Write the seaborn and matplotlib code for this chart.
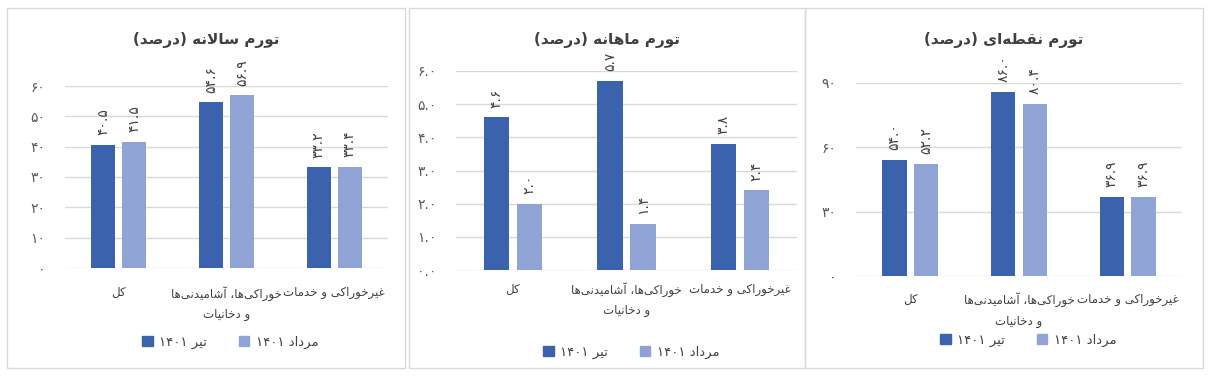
import re
import pandas as pd
import matplotlib.pyplot as plt
import matplotlib.patches as mpatches
import seaborn as sns

# chart data
categories = ['کل', 'خوراکی‌ها، آشامیدنی‌ها\nو دخانیات', 'غیرخوراکی و خدمات']
months = ['تیر ۱۴۰۱', 'مرداد ۱۴۰۱']
titles = ['تورم سالانه (درصد)', 'تورم ماهانه (درصد)', 'تورم نقطه‌ای (درصد)']

annual_tir = [40.5, 54.6, 33.2]
annual_mordad = [41.5, 56.9, 33.4]
monthly_tir = [4.6, 5.7, 3.8]
monthly_mordad = [2.0, 1.4, 2.4]
point_tir = [54.0, 86.0, 36.9]
point_mordad = [52.2, 80.4, 36.9]

annual_ticks = [0, 10, 20, 30, 40, 50, 60]
monthly_ticks = [0, 1, 2, 3, 4, 5, 6]
point_ticks = [0, 30, 60, 90]

DARK = '#3b63ad'
LIGHT = '#8fa4d4'
W, H = 1211, 378

# --- minimal persian shaping (matplotlib has no complex text layout) ---
FORMS = {
    'ا': (0xFE8D, 2), 'آ': (0xFE81, 2), 'د': (0xFEA9, 2), 'ذ': (0xFEAB, 2),
    'ر': (0xFEAD, 2), 'ز': (0xFEAF, 2), 'ژ': (0xFB8A, 2), 'و': (0xFEED, 2),
    'ب': (0xFE8F, 4), 'پ': (0xFB56, 4), 'ت': (0xFE95, 4), 'ث': (0xFE99, 4),
    'ج': (0xFE9D, 4), 'چ': (0xFB7A, 4), 'ح': (0xFEA1, 4), 'خ': (0xFEA5, 4),
    'س': (0xFEB1, 4), 'ش': (0xFEB5, 4), 'ص': (0xFEB9, 4), 'ض': (0xFEBD, 4),
    'ط': (0xFEC1, 4), 'ظ': (0xFEC5, 4), 'ع': (0xFEC9, 4), 'غ': (0xFECD, 4),
    'ف': (0xFED1, 4), 'ق': (0xFED5, 4), 'ک': (0xFB8E, 4), 'گ': (0xFB92, 4),
    'ل': (0xFEDD, 4), 'م': (0xFEE1, 4), 'ن': (0xFEE5, 4), 'ه': (0xFEE9, 4),
    'ی': (0xFBFC, 4),
}
LAM_ALEF = {'ا': (0xFEFB, 0xFEFC), 'آ': (0xFEF5, 0xFEF6)}


def shape(s):
    out = []
    i = 0
    while i < len(s):
        c = s[i]
        if c not in FORMS:
            out.append(c)
            i += 1
            continue
        prev = s[i - 1] if i > 0 else ''
        nxt = s[i + 1] if i + 1 < len(s) else ''
        link_prev = prev in FORMS and FORMS[prev][1] == 4
        if c == 'ل' and nxt in LAM_ALEF:
            out.append(chr(LAM_ALEF[nxt][1 if link_prev else 0]))
            i += 2
            continue
        link_next = FORMS[c][1] == 4 and nxt in FORMS
        if link_prev and link_next:
            k = 3
        elif link_prev:
            k = 1
        elif link_next:
            k = 2
        else:
            k = 0
        out.append(chr(FORMS[c][0] + k))
        i += 1
    return ''.join(out)


def fa(text):
    lines = []
    for line in text.split('\n'):
        s = shape(line).replace('\u200c', '')
        runs = re.findall(r'[۰-۹0-9.]+|[^۰-۹0-9.]+', s)
        vis = ''.join(r if re.match(r'[۰-۹0-9]', r) else r[::-1] for r in reversed(runs))
        lines.append(vis.translate(str.maketrans('()', ')(')))
    return '\n'.join(lines)


def fa_num(x, dec):
    s = f'{x:.{dec}f}'
    return s.translate(str.maketrans('0123456789', '۰۱۲۳۴۵۶۷۸۹'))


sns.set_style('white')
plt.rcParams['font.family'] = ['DejaVu Sans']

fig = plt.figure(figsize=(W / 100, H / 100), dpi=100)

# layout in pixels: panel box, plot area (x0, x1, y_top, y_base), legend y, xlabel pad
layout = [
    dict(box=(7, 8, 405, 368), area=(65, 388, 86, 268), legend_y=342, xpad=13),
    dict(box=(409, 8, 805, 368), area=(456, 797, 71, 270), legend_y=352, xpad=9),
    dict(box=(805, 8, 1203, 368), area=(856, 1182, 83, 276), legend_y=340, xpad=12),
]
series = [
    (annual_tir, annual_mordad, annual_ticks, 1, 0),
    (monthly_tir, monthly_mordad, monthly_ticks, 1, 1),
    (point_tir, point_mordad, point_ticks, 1, 0),
]

for title, lay, (tir, mordad, ticks, dec, tick_dec) in zip(titles, layout, series):
    bx0, by0, bx1, by1 = lay['box']
    fig.add_artist(mpatches.Rectangle((bx0 / W, 1 - by1 / H), (bx1 - bx0) / W, (by1 - by0) / H,
                                      transform=fig.transFigure, fill=False,
                                      edgecolor='#d9d9d9', linewidth=1))
    x0, x1, yt, yb = lay['area']
    ax = fig.add_axes([x0 / W, 1 - yb / H, (x1 - x0) / W, (yb - yt) / H])

    df = pd.DataFrame({
        'cat': categories * 2,
        'month': [months[0]] * 3 + [months[1]] * 3,
        'value': tir + mordad,
    })
    sns.barplot(data=df, x='cat', y='value', hue='month', hue_order=months,
                palette=[DARK, LIGHT], saturation=1, width=0.58, gap=0.23,
                linewidth=0, legend=False, ax=ax)

    for cont, vals in zip(ax.containers, [tir, mordad]):
        ax.bar_label(cont, labels=[fa_num(v, dec) for v in vals], rotation=90,
                     padding=7, fontsize=10, color='#404040', clip_on=False)

    ax.set_ylim(0, ticks[-1])
    ax.set_xlim(-0.5, 2.5)
    ax.set_yticks(ticks)
    ax.set_yticklabels([fa_num(t, tick_dec) for t in ticks], color='#595959', fontsize=10)
    ax.set_xticks(range(3))
    ax.set_xticklabels([fa(c) for c in categories], color='#404040', fontsize=8.5,
                       linespacing=1.7)
    ax.tick_params(axis='y', length=0, pad=14)
    ax.tick_params(axis='x', length=0, pad=lay['xpad'])
    ax.set_xlabel('')
    ax.set_ylabel('')
    ax.grid(axis='y', color='#d9d9d9', linewidth=1)
    ax.set_axisbelow(True)
    sns.despine(ax=ax, left=True, bottom=True)

    fig.text((bx0 + bx1) / 2 / W, 1 - 40 / H, fa(title), ha='center', va='center',
             fontsize=11, fontweight='bold', color='#404040')

    handles = [mpatches.Patch(color=DARK), mpatches.Patch(color=LIGHT)]
    ax.legend(handles, [fa(m) for m in months], loc='center', ncol=2, frameon=False,
              bbox_to_anchor=((bx0 + bx1) / 2 / W + 0.02, 1 - lay['legend_y'] / H),
              bbox_transform=fig.transFigure, fontsize=9.5, handlelength=0.8,
              handleheight=0.8, handletextpad=0.5, columnspacing=2.4,
              labelcolor='#404040')

fig.savefig('out.png', dpi=100)
